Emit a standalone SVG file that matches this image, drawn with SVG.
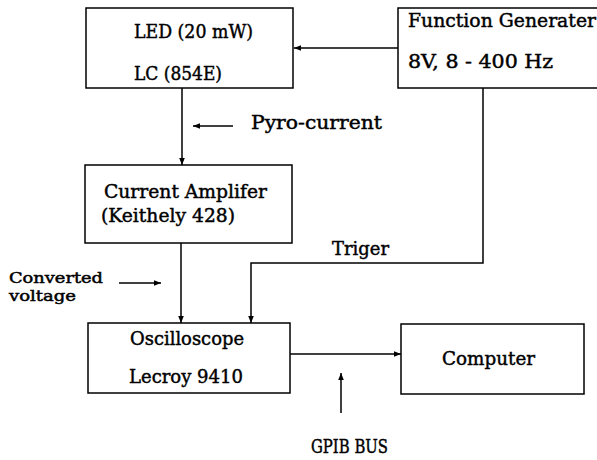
<svg xmlns="http://www.w3.org/2000/svg" width="597" height="460" viewBox="0 0 597 460">
<style>
.box{fill:#fff;stroke:#000;stroke-width:1.5}
.ln{fill:none;stroke:#000;stroke-width:1.5}
text{font-family:"DejaVu Serif","Liberation Serif",serif;font-size:19px;fill:#000;stroke:#000;stroke-width:0.45}
text.sm{font-size:15px;stroke-width:0.5}
</style>
<defs>
<marker id="ah" viewBox="0 0 10 10" refX="10" refY="5" markerWidth="7" markerHeight="7" markerUnits="userSpaceOnUse" orient="auto">
<path d="M0,1 L10,5 L0,9 Z" fill="#000"/>
</marker>
</defs>
<rect width="597" height="460" fill="#fff"/>
<g id="connectors">
<line class="ln" x1="398" y1="48" x2="294" y2="48" marker-end="url(#ah)"/>
<line class="ln" x1="182" y1="88" x2="182" y2="165" marker-end="url(#ah)"/>
<line class="ln" x1="181" y1="243" x2="181" y2="323" marker-end="url(#ah)"/>
<polyline class="ln" points="483,88 483,263 251,263 251,323" marker-end="url(#ah)"/>
<line class="ln" x1="290" y1="354" x2="401" y2="354" marker-end="url(#ah)"/>
<line class="ln" x1="233" y1="126" x2="193" y2="126" marker-end="url(#ah)"/>
<line class="ln" x1="119" y1="283" x2="161" y2="283" marker-end="url(#ah)"/>
<line class="ln" x1="341" y1="413" x2="341" y2="373" marker-end="url(#ah)"/>
</g>
<g id="led">
<rect class="box" x="86" y="8" width="207" height="80"/>
<text x="134" y="38" textLength="119" lengthAdjust="spacingAndGlyphs">LED (20 mW)</text>
<text x="134" y="80" textLength="88" lengthAdjust="spacingAndGlyphs">LC (854E)</text>
</g>
<g id="funcgen">
<rect class="box" x="398" y="8" width="205" height="80"/>
<text x="408" y="27" textLength="188" lengthAdjust="spacingAndGlyphs">Function Generater</text>
<text x="408" y="68" textLength="145" lengthAdjust="spacingAndGlyphs">8V, 8 - 400 Hz</text>
</g>
<g id="amp">
<rect class="box" x="85" y="165" width="207" height="78"/>
<text x="104" y="198" textLength="163" lengthAdjust="spacingAndGlyphs">Current Amplifer</text>
<text x="101" y="222" textLength="134" lengthAdjust="spacingAndGlyphs">(Keithely 428)</text>
</g>
<g id="osc">
<rect class="box" x="88" y="323" width="202" height="70"/>
<text x="130" y="345" textLength="114" lengthAdjust="spacingAndGlyphs">Oscilloscope</text>
<text x="129" y="383" textLength="114" lengthAdjust="spacingAndGlyphs">Lecroy 9410</text>
</g>
<g id="computer">
<rect class="box" x="401" y="324" width="183" height="70"/>
<text x="442" y="365" textLength="93" lengthAdjust="spacingAndGlyphs">Computer</text>
</g>
<g id="labels">
<text x="251" y="129" textLength="131" lengthAdjust="spacingAndGlyphs">Pyro-current</text>
<text class="sm" x="9" y="283" textLength="94" lengthAdjust="spacingAndGlyphs">Converted</text>
<text class="sm" x="9" y="301" textLength="67" lengthAdjust="spacingAndGlyphs">voltage</text>
<text x="332" y="255" textLength="57" lengthAdjust="spacingAndGlyphs">Triger</text>
<text x="311" y="453" textLength="77" lengthAdjust="spacingAndGlyphs">GPIB BUS</text>
</g>
</svg>
